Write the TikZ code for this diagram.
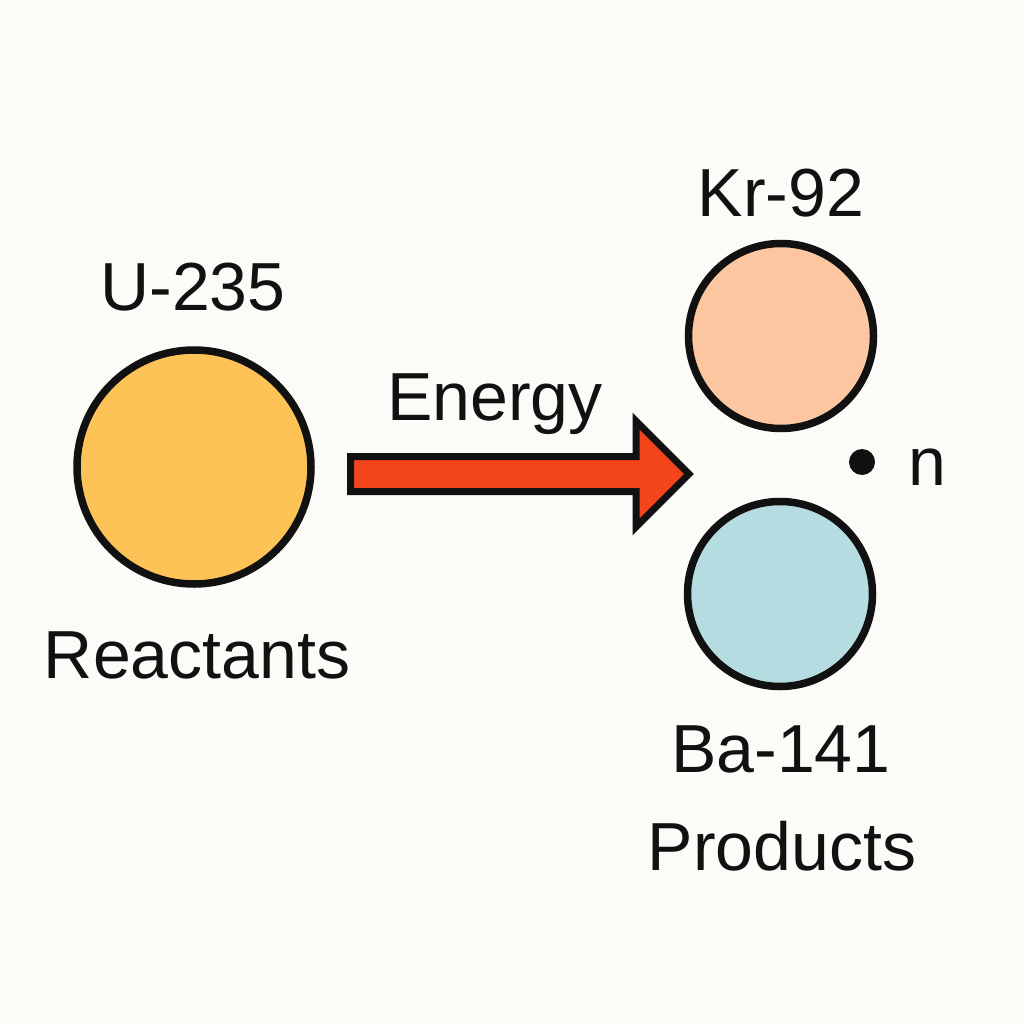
\documentclass[tikz,border=0pt]{standalone}
\usepackage{fontspec}
\setmainfont{Liberation Sans}
\definecolor{bg}{HTML}{FCFBF8}
\definecolor{ufill}{HTML}{FDC357}
\definecolor{krfill}{HTML}{FCC6A0}
\definecolor{bafill}{HTML}{B5DCE0}
\definecolor{arrowfill}{HTML}{F4441B}
\definecolor{ink}{HTML}{111111}
\begin{document}
\begin{tikzpicture}[x=1pt,y=-1pt,
  atom/.style={circle,draw=ink,line width=7.5pt,inner sep=0pt},
  lbl/.style={font=\fontsize{68}{70}\selectfont,text=ink,anchor=base,inner sep=0pt}]
\fill[bg] (0,0) rectangle (1024,1024);
\useasboundingbox (0,0) rectangle (1024,1024);
% atoms
\node[atom,fill=ufill,minimum size=234pt] (u) at (194,467) {};
\node[atom,fill=krfill,minimum size=185pt] (kr) at (781,336) {};
\node[atom,fill=bafill,minimum size=185pt] (ba) at (780,594) {};
\node[circle,fill=ink,inner sep=0pt,minimum size=26pt] (n) at (862,462) {};
% arrow
\coordinate (a0) at (350.5,474);
\coordinate (a1) at (689,474);
\draw[ink,line width=7pt,fill=arrowfill,line join=miter]
  (350.5,456.5) -- (636,456.5) -- (636,421) -- (a1) -- (636,527) -- (636,491.5) -- (350.5,491.5) -- cycle;
% labels
\node[lbl] (tu) at (193,310) {U-235};
\node[lbl] (treac) at (197,678) {Reactants};
\node[lbl] (ten) at (495,420) {Energy};
\node[lbl] (tkr) at (781,217) {Kr-92};
\node[lbl] (tba) at (781,772) {Ba-141};
\node[lbl] (tprod) at (782,870) {Products};
\node[lbl] (tn) at (927,485) {n};
\end{tikzpicture}
\end{document}
